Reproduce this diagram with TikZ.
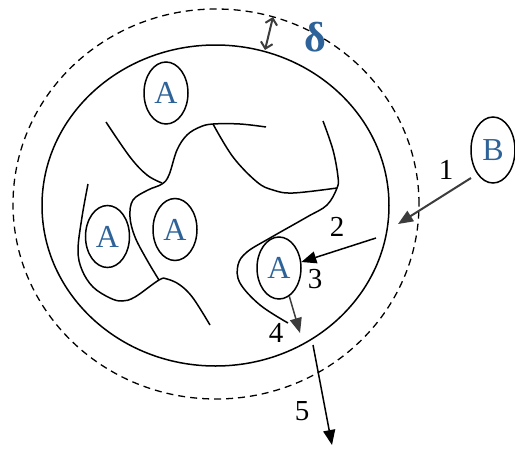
\documentclass[tikz,border=0pt]{standalone}
\usepackage{fontspec}
\setmainfont{Liberation Serif}
\usetikzlibrary{shapes.geometric,arrows.meta}
\definecolor{txtblue}{HTML}{2E6399}
\definecolor{arrgray}{HTML}{3C3C3C}
\begin{document}
\begin{tikzpicture}[x=1pt,y=-1pt,line width=1.5pt]
\useasboundingbox (0,0) rectangle (515,448);
\tikzset{
  cell/.style={draw, ellipse, line width=1.5pt, minimum width=44pt, minimum height=62pt,
    inner sep=0pt, text=txtblue, font=\fontsize{32}{32}\selectfont},
  lbl/.style={font=\fontsize{29}{29}\selectfont, inner sep=0pt},
  chain/.style={line width=1.5pt},
  arr/.style={-{Triangle[length=15pt,width=12pt]}, line width=1.5pt},
  dblarr/.style={{Straight Barb[length=6pt,width=12pt]}-{Straight Barb[length=6pt,width=12pt]}, line width=2pt, arrgray}
}
% boundaries
\node[draw, dashed, dash pattern=on 7pt off 5pt, ellipse, minimum width=406pt, minimum height=390pt, inner sep=0pt, line width=1.3pt] (layer) at (216,204) {};
\node[draw, ellipse, minimum width=347pt, minimum height=321pt, inner sep=0pt, line width=1.5pt] (wall) at (215.5,205.5) {};
% chains
\draw[chain] plot[smooth, tension=0.6] coordinates {(106,122) (130,157) (147,175) (162,183)};
\draw[chain] plot[smooth, tension=0.6] coordinates {(266,127) (240,124) (213,124) (200,127) (187,135) (177,150) (169,175) (162,184) (148,190) (133,200) (130,217) (135,237) (147,260) (159,280)};
\draw[chain] plot[smooth, tension=0.6] coordinates {(213,124) (233,157) (257,182) (273,190) (293,193) (337,188)};
\draw[chain] plot[smooth, tension=0.6] coordinates {(323,121) (333,150) (338,177) (337,188) (327,205) (307,217) (270,238) (247,252) (238,265) (240,283) (260,305) (288,323)};
\draw[chain] plot[smooth, tension=0.6] coordinates {(88,184) (82,217) (78,250) (82,270) (93,287) (110,298) (122,301) (135,297) (159,280) (167,279) (180,285) (193,298) (210,325)};
% molecules
\node[cell] (A1) at (166,93) {A};
\node[cell] (A2) at (107.5,236.5) {A};
\node[cell] (A3) at (175,229.5) {A};
\node[cell] (A4) at (279,268) {A};
\node[cell, minimum height=66pt] (B) at (493,150) {B};
% delta
\node[font=\bfseries\fontsize{42}{42}\selectfont, text=txtblue, inner sep=0pt] (delta) at (315,37) {δ};
\coordinate (dtop) at (273,17);
\coordinate (dbot) at (265,50);
\draw[dblarr] (dtop) -- (dbot);
% arrows
\coordinate (b1) at (471,178);
\coordinate (p1) at (398,224);
\coordinate (p2) at (376,238);
\coordinate (p4) at (300,333);
\coordinate (p5s) at (313,345);
\coordinate (p5e) at (332,445);
\draw[arr, arrgray, line width=2pt] (b1) -- (p1);
\draw[arr] (p2) -- (A4.15);
\draw[arr, arrgray] (A4.-70) -- (p4);
\draw[arr] (p5s) -- (p5e);
% labels
\node[lbl] (l1) at (446,170) {1};
\node[lbl] (l2) at (337,227) {2};
\node[lbl] (l3) at (315,279) {3};
\node[lbl] (l4) at (276,333) {4};
\node[lbl] (l5) at (302,411) {5};
\end{tikzpicture}
\end{document}
